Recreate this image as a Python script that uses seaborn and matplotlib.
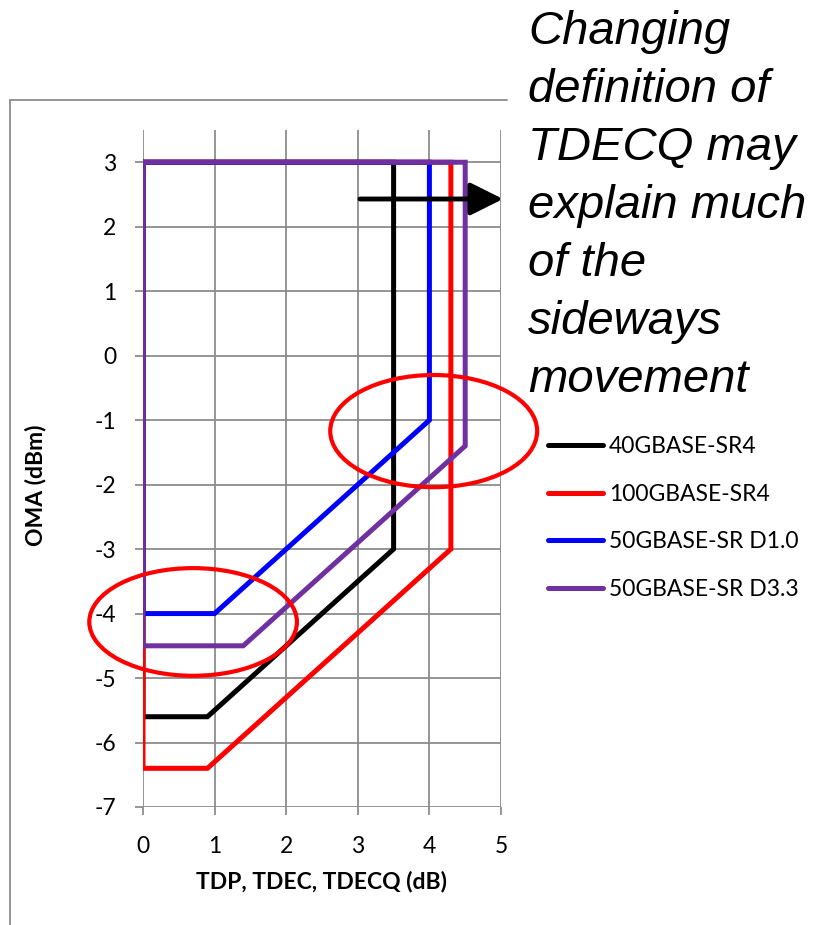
import matplotlib
matplotlib.use('Agg')
import matplotlib.pyplot as plt
from matplotlib.patches import Ellipse
from matplotlib.lines import Line2D
import seaborn as sns
import pandas as pd

# Transmitter limit curves: TDP/TDEC/TDECQ (dB) vs OMA (dBm)
series_names = ['40GBASE-SR4', '100GBASE-SR4', '50GBASE-SR D1.0', '50GBASE-SR D3.3']
series_colors = ['#000000', '#FF0000', '#0000FF', '#7030A0']

sr4_40g_x = [0, 3.5, 3.5, 0.9, 0, 0]
sr4_40g_y = [3, 3, -3, -5.6, -5.6, 3]
sr4_100g_x = [0, 4.3, 4.3, 0.9, 0, 0]
sr4_100g_y = [3, 3, -3, -6.4, -6.4, 3]
sr_d10_x = [0, 4.0, 4.0, 1.0, 0, 0]
sr_d10_y = [3, 3, -1, -4, -4, 3]
sr_d33_x = [0, 4.5, 4.5, 1.4, 0, 0]
sr_d33_y = [3, 3, -1.4, -4.5, -4.5, 3]

x_ticks = [0, 1, 2, 3, 4, 5]
y_ticks = [-7, -6, -5, -4, -3, -2, -1, 0, 1, 2, 3]

note = ('Changing\ndefinition of\nTDECQ may\nexplain much\n'
        'of the\nsideways\nmovement')

# long-form table for seaborn
frames = []
for name, xs, ys in zip(series_names,
                        [sr4_40g_x, sr4_100g_x, sr_d10_x, sr_d33_x],
                        [sr4_40g_y, sr4_100g_y, sr_d10_y, sr_d33_y]):
    frames.append(pd.DataFrame({'series': name, 'x': xs, 'y': ys}))
df = pd.concat(frames, ignore_index=True)

sns.set_style('white')
plt.rcParams['font.family'] = ['Lato', 'DejaVu Sans']
plt.rcParams['axes.unicode_minus'] = False
plt.rcParams['text.color'] = 'black'
plt.rcParams['axes.labelcolor'] = 'black'

W, H = 815, 925
fig = plt.figure(figsize=(W / 100, H / 100), dpi=100)
ax = fig.add_axes([143 / W, 1 - 807 / H, 358 / W, 677 / H])

grid_col = '#8c8c8c'
sns.lineplot(data=df, x='x', y='y', hue='series', hue_order=series_names,
             palette=series_colors, sort=False, estimator=None,
             lw=3.6, solid_joinstyle='miter', ax=ax, zorder=3)

ax.set_xlim(0, 5)
ax.set_ylim(-7, 3.5)
ax.set_xticks(x_ticks)
ax.set_yticks(y_ticks)
for s in ax.spines.values():
    s.set_visible(False)
ax.grid(True, color=grid_col, lw=1.3)
ax.tick_params(axis='both', direction='out', length=6, width=1.3, color=grid_col,
               labelcolor='black', labelsize=16.5, left=True, bottom=True)
ax.tick_params(axis='x', pad=15)
ax.tick_params(axis='y', pad=13)

ax.set_xlabel('TDP, TDEC, TDECQ (dB)', fontsize=16.5, fontweight='bold')
ax.set_ylabel('OMA (dBm)', fontsize=16.5, fontweight='bold')
ax.xaxis.set_label_coords(0.5, (807 - 882) / 677)
ax.xaxis.label.set_va('center')
ax.yaxis.set_label_coords((35 - 143) / 358, (807 - 485) / 677)
ax.yaxis.label.set_va('center')

# legend to the right of the plot
handles, labels = ax.get_legend_handles_labels()
ax.get_legend().remove()
leg = ax.legend(handles, labels, loc='upper left',
                bbox_to_anchor=(548 / W, 1 - 436 / H), bbox_transform=fig.transFigure,
                frameon=False, fontsize=16.5, handlelength=2.4, handletextpad=0.25,
                labelspacing=1.16, borderpad=0, borderaxespad=0)
for ln in leg.get_lines():
    ln.set_linewidth(3.6)

# red highlight ellipses
ax.add_patch(Ellipse((4.06, -1.17), 2.89, 1.74, fill=False, ec='#FF0000', lw=3,
                     clip_on=False, zorder=5))
ax.add_patch(Ellipse((0.70, -4.13), 2.90, 1.67, fill=False, ec='#FF0000', lw=3,
                     clip_on=False, zorder=5))

# arrow pointing at the note
ax.annotate('', xy=(503, H - 199), xycoords='figure pixels',
            xytext=(360, H - 199), textcoords='figure pixels',
            arrowprops=dict(arrowstyle='-|>,head_length=1.0,head_width=0.5',
                            mutation_scale=20, lw=3.5, color='black',
                            shrinkA=0, shrinkB=0))

# baseline of the last line ("movement")
fig.text(528 / W, 1 - 392 / H, note, fontsize=34, style='italic', color='black',
         family='Liberation Sans', va='baseline', ha='left', linespacing=1.41)

# partial chart border
fig.add_artist(Line2D([10 / W, 10 / W], [1 - 100 / H, 0], transform=fig.transFigure,
                      color=grid_col, lw=1.3))
fig.add_artist(Line2D([10 / W, 507 / W], [1 - 100 / H, 1 - 100 / H],
                      transform=fig.transFigure, color=grid_col, lw=1.3))

fig.savefig('out.png', dpi=100)
